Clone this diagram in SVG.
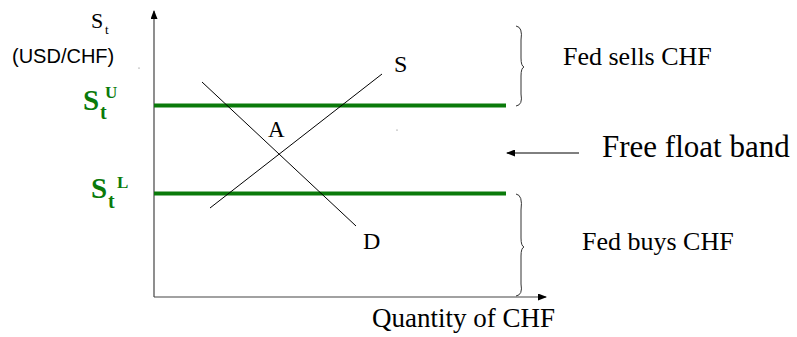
<svg xmlns="http://www.w3.org/2000/svg" width="797" height="337" viewBox="0 0 797 337">
<defs>
<marker id="ah" markerWidth="9" markerHeight="7" refX="8" refY="3.5" orient="auto" markerUnits="userSpaceOnUse">
<path d="M0,0 L9,3.5 L0,7 z" fill="#000"/>
</marker>
<style>
.ser{font-family:"Liberation Serif","Times New Roman",serif;fill:#000}
.san{font-family:"Liberation Sans",Arial,sans-serif;fill:#000}
.grn{font-family:"Liberation Serif","Times New Roman",serif;font-weight:bold;fill:#0a7a0a}
.band{stroke:#0a7a0a;stroke-width:4;fill:none}
.curve{stroke:#000;stroke-width:1;fill:none}
.axis{stroke:#444;stroke-width:1.2;fill:none}
.brace{stroke:#333;stroke-width:1;fill:none}
</style>
</defs>
<rect width="797" height="337" fill="#fff"/>

<g id="connectors">
<line class="axis" x1="154" y1="297" x2="154" y2="11" marker-end="url(#ah)"/>
<line class="axis" x1="154" y1="297" x2="546" y2="297" marker-end="url(#ah)"/>
<line class="curve" x1="579" y1="153" x2="507" y2="153" marker-end="url(#ah)"/>
</g>

<g id="axis-labels">
<text class="ser" x="91" y="28" font-size="22">S</text>
<text class="ser" x="105" y="34" font-size="13">t</text>
<text class="san" x="12" y="63" font-size="20">(USD/CHF)</text>
<text class="ser" x="372" y="327" font-size="27">Quantity of CHF</text>
</g>

<g id="upper-band">
<line class="band" x1="154" y1="105.5" x2="506" y2="105.5"/>
<text class="grn" x="83" y="110" font-size="29">S</text>
<text class="grn" x="100" y="119" font-size="20">t</text>
<text class="grn" x="105" y="98" font-size="17">U</text>
</g>

<g id="lower-band">
<line class="band" x1="154" y1="193.5" x2="506" y2="193.5"/>
<text class="grn" x="91" y="198" font-size="29">S</text>
<text class="grn" x="108" y="208" font-size="20">t</text>
<text class="grn" x="117" y="188" font-size="17">L</text>
</g>

<g id="supply">
<line class="curve" x1="210" y1="208" x2="382" y2="74"/>
<text class="ser" x="394" y="72" font-size="24">S</text>
</g>

<g id="demand">
<line class="curve" x1="202" y1="82" x2="356" y2="226"/>
<text class="ser" x="363" y="249" font-size="24">D</text>
</g>

<g id="equilibrium">
<text class="ser" x="268" y="137" font-size="23">A</text>
</g>

<g id="fed-sells">
<path class="brace" d="M516,26 Q523,27 521,40 L521,58 Q521,66 524,67 Q521,68 521,76 L521,94 Q523,105 516,106"/>
<text class="ser" x="563" y="65" font-size="26">Fed sells CHF</text>
</g>

<g id="free-float">
<text class="ser" x="602" y="157" font-size="31">Free float band</text>
</g>

<g id="fed-buys">
<path class="brace" d="M516,194 Q523,195 521,210 L521,238 Q521,246 524,247 Q521,248 521,256 L521,284 Q523,295 516,296"/>
<text class="ser" x="582" y="250" font-size="26">Fed buys CHF</text>
</g>

<circle cx="139" cy="68" r="0.6" fill="#666"/>
<circle cx="397" cy="130" r="0.6" fill="#666"/>
</svg>
